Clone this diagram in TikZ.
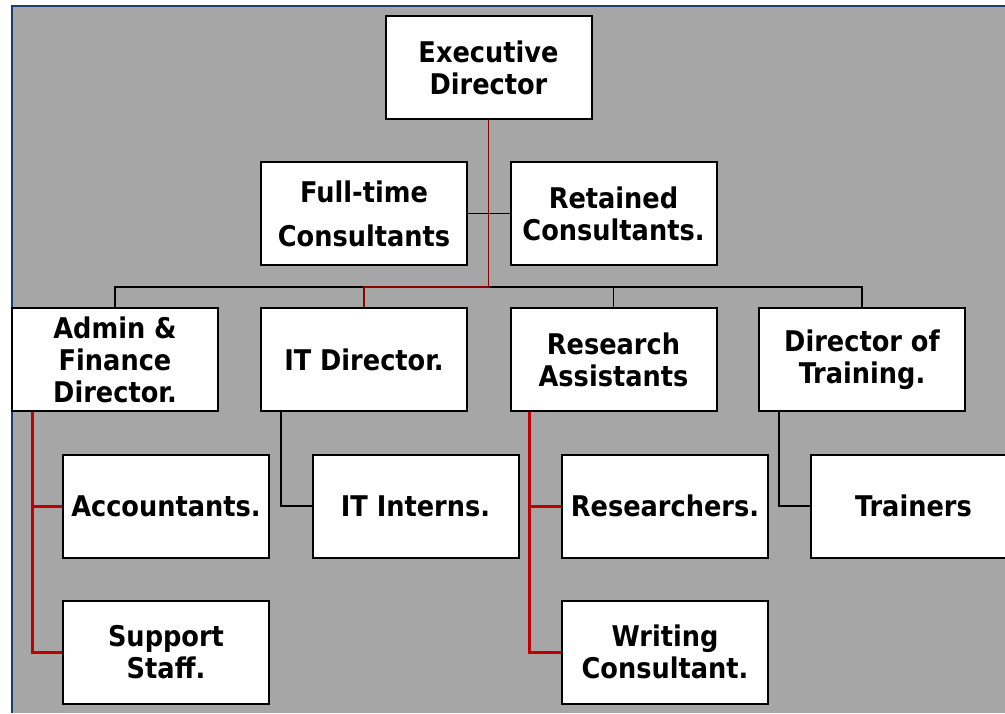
\documentclass[tikz,border=0pt]{standalone}
\usepackage{fontspec}
\setmainfont{DejaVu Sans Condensed}
\definecolor{chartgray}{HTML}{A6A6A6}
\definecolor{framenavy}{HTML}{1F3B73}
\definecolor{linkred}{HTML}{C00000}
\definecolor{tiered}{HTML}{8B0000}

\begin{document}
\begin{tikzpicture}[x=1pt,y=-1pt,
post/.style={rectangle,draw=black,fill=white,line width=2pt,minimum width=206pt,minimum height=103pt,inner sep=0pt,align=center,font=\bfseries\fontsize{28.5}{32}\selectfont},
busline/.style={draw=black,line width=1.4pt},
tieline/.style={draw=tiered,line width=1.6pt}]

\tikzset{redlink/.style={draw=linkred,line width=3pt}, blacklink/.style={draw=black,line width=2pt}}

\useasboundingbox (0,0) rectangle (1005,713);
\clip (0,0) rectangle (1005,713);
\fill[chartgray] (12,6) rectangle (1005,713);
\draw[framenavy,line width=1.5pt] (12,713) -- (12,6) -- (1005,6);

% top of the chart
\node[post] (exec) at (488.5,67.5) {Executive\\Director};
\node[post] (fulltime) at (364,213.5) {Full-time\\[12pt]Consultants};
\node[post] (retained) at (613.5,213.5) {Retained\\Consultants.};

% directors
\node[post] (admin) at (115,359.5) {Admin \&\\Finance\\Director.};
\node[post] (itdir) at (364,359.5) {IT Director.};
\node[post] (research) at (613.5,359.5) {Research\\Assistants};
\node[post] (training) at (862,359.5) {Director of\\Training.};

% staff
\node[post] (accountants) at (166,506) {Accountants.};
\node[post] (itinterns) at (415.5,506) {IT Interns.};
\node[post] (researchers) at (665,506) {Researchers.};
\node[post] (trainers) at (913.5,506) {Trainers};
\node[post] (support) at (166,652) {Support\\Staff.};
\node[post] (writing) at (665,652) {Writing\\Consultant.};

\coordinate (split) at (488.5,287);

\draw[busline] (fulltime.east) -- (retained.west);
\draw[busline] (admin.north) |- (itdir.north |- split);
\draw[busline] (split) -| (training.north);
\draw[busline] (research.north) -- (research.north |- split);
\draw[tieline] (exec.south) -- (split) -| (itdir.north);

\draw[redlink] ([xshift=21pt]admin.south west) |- (support.west);
\draw[redlink] ([xshift=21pt]admin.south west |- accountants.west) -- (accountants.west);
\draw[blacklink] ([xshift=21pt]itdir.south west) |- (itinterns.west);
\draw[redlink] ([xshift=20pt]research.south west) |- (writing.west);
\draw[redlink] ([xshift=20pt]research.south west |- researchers.west) -- (researchers.west);
\draw[blacklink] ([xshift=21pt]training.south west) |- (trainers.west);

\end{tikzpicture}
\end{document}
